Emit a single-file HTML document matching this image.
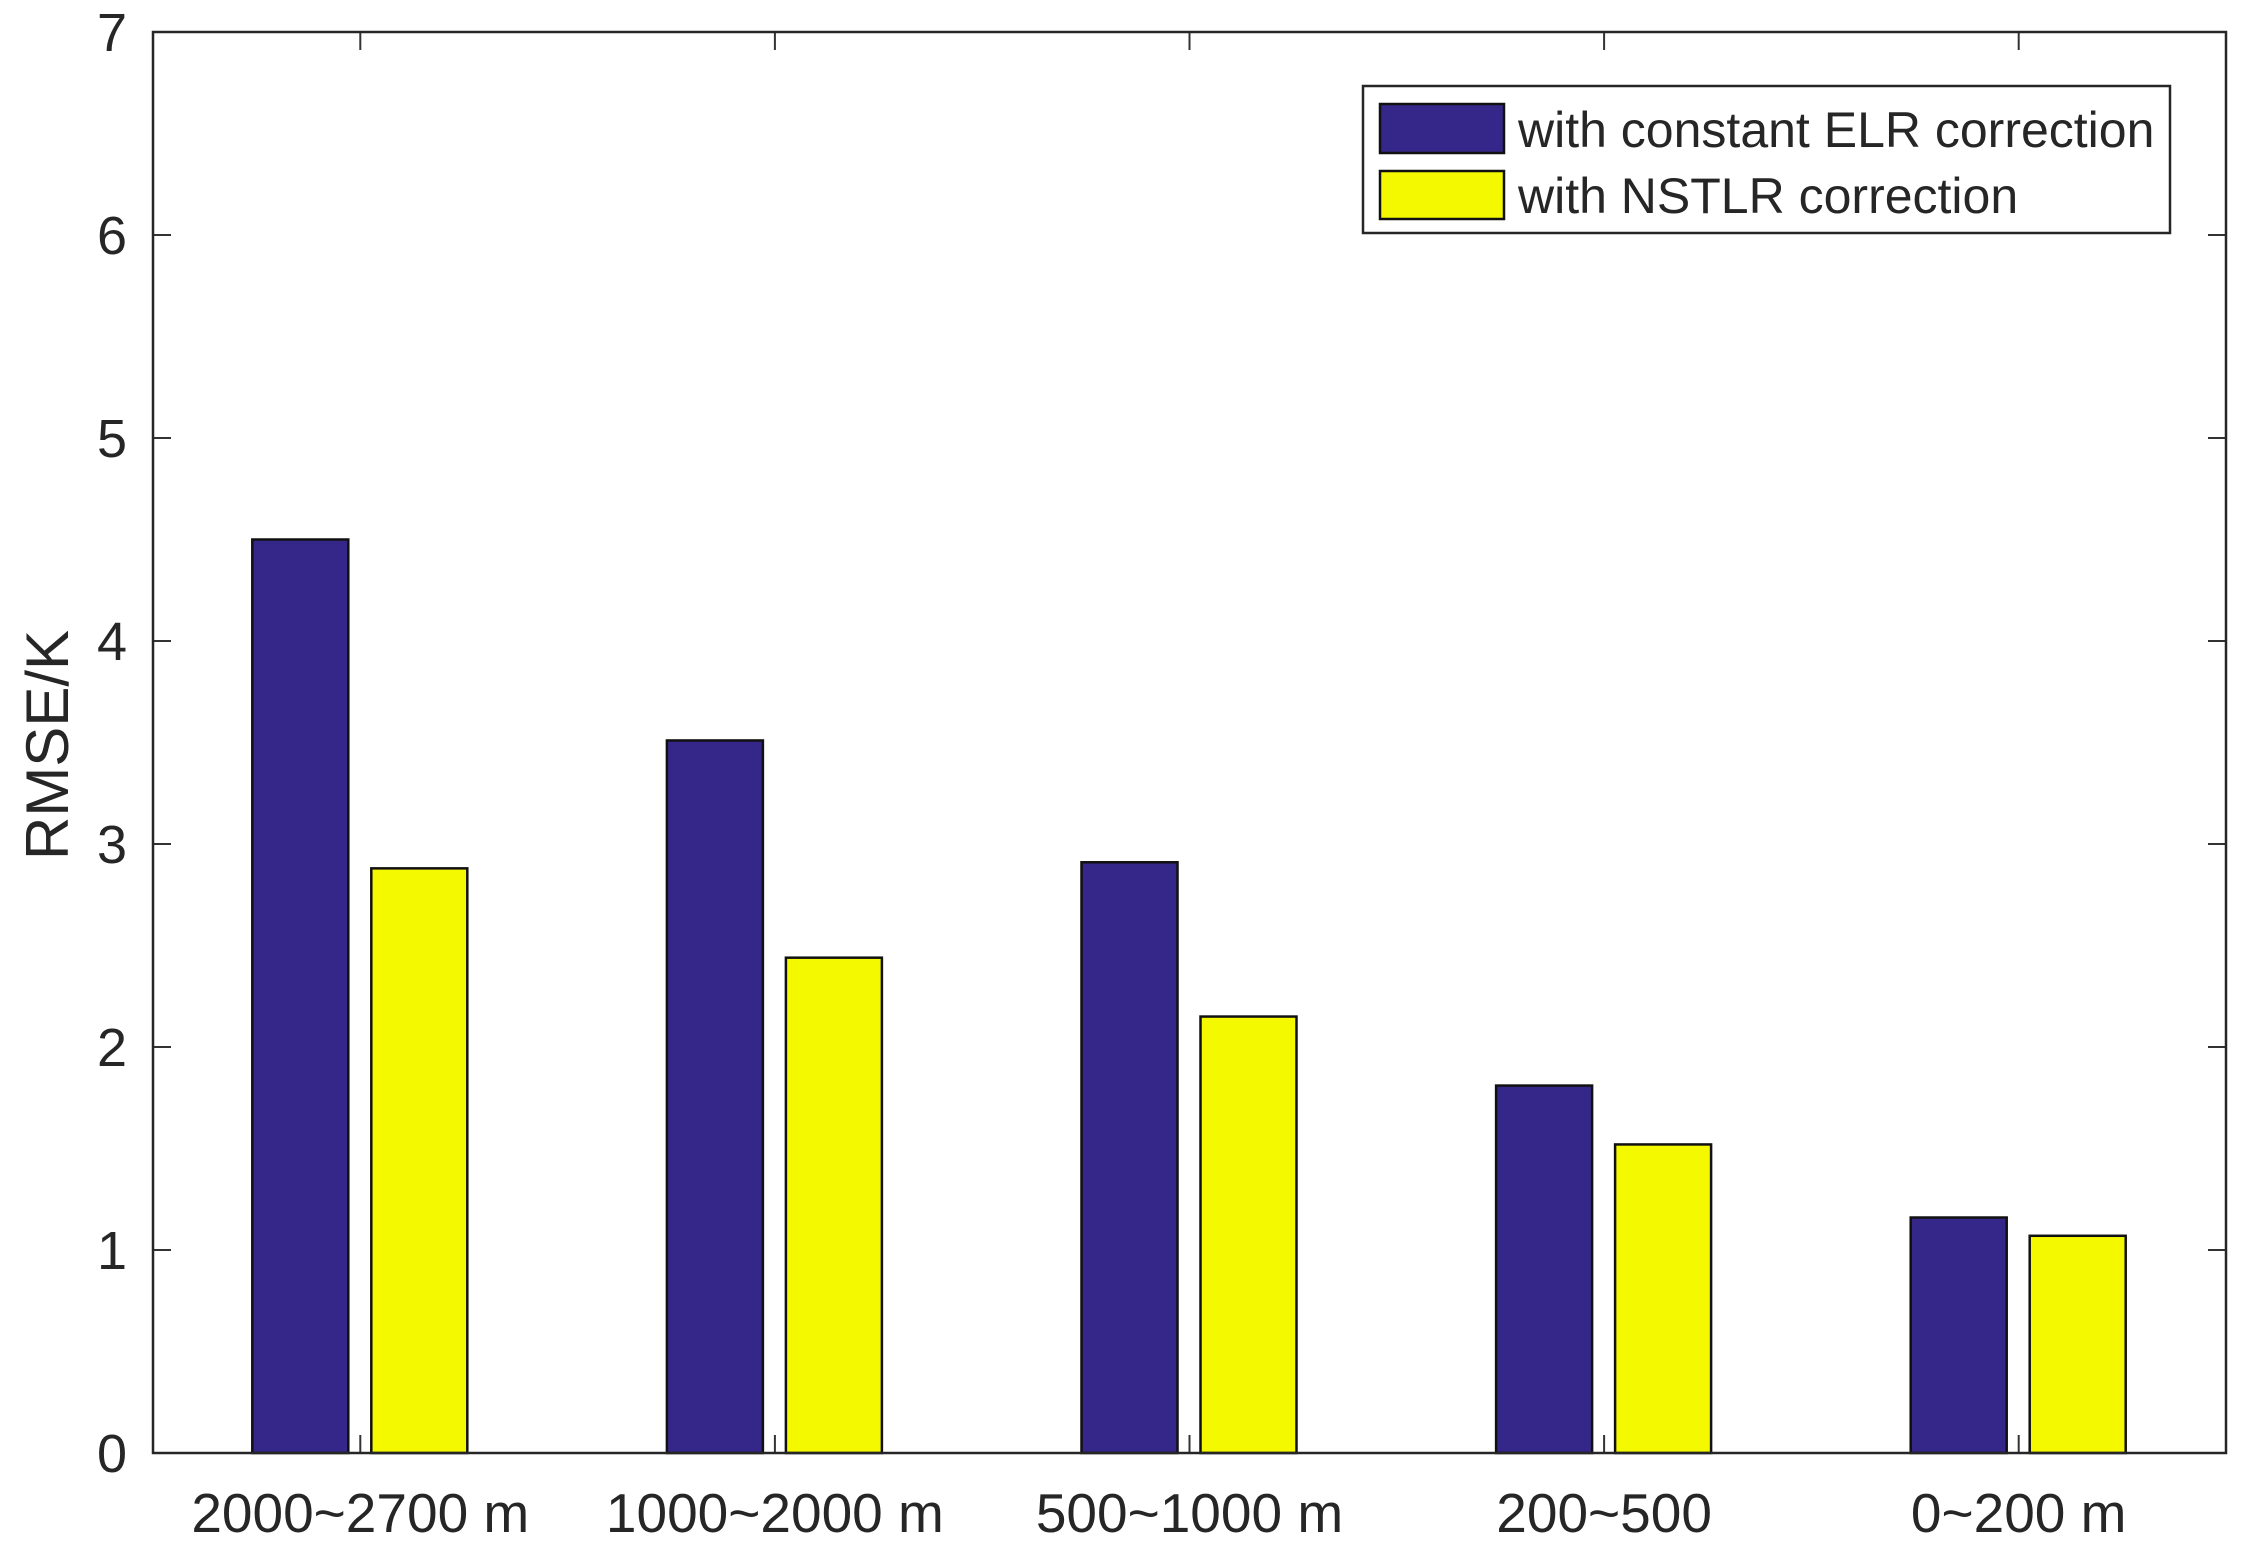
<!DOCTYPE html>
<html><head><meta charset="utf-8"><style>
html,body{margin:0;padding:0;background:#fff;}
svg text{font-family:"Liberation Sans",Arial,sans-serif;fill:#262626;}
</style></head><body>
<svg id="chart" width="2246" height="1554" viewBox="0 0 2246 1554" xmlns="http://www.w3.org/2000/svg"></svg>
<script>
const categories = ["2000~2700 m","1000~2000 m","500~1000 m","200~500","0~200 m"];
const elrValues = [4.5, 3.51, 2.91, 1.81, 1.16];
const nstlrValues = [2.88, 2.44, 2.15, 1.52, 1.07];
const yTicks = [0,1,2,3,4,5,6,7];

const NS = "http://www.w3.org/2000/svg";
const svg = document.getElementById("chart");
const L = 153, R = 2226, T = 32, B = 1453;
const yMax = 7;
function yScale(v){ return B - (B - T) * v / yMax; }
const step = (R - L) / categories.length;
function xCenter(i){ return L + step * (i + 0.5); }
function mk(tag, attrs){ const e = document.createElementNS(NS, tag); for (const k in attrs) e.setAttribute(k, attrs[k]); svg.appendChild(e); return e; }

const bw = 96;
categories.forEach((c, i) => {
  const cx = xCenter(i);
  const b1 = mk("rect", {x: cx - 108, y: yScale(elrValues[i]), width: bw, height: B - yScale(elrValues[i]), fill: "#352789", stroke: "#111", "stroke-width": 2.5});
  
  
  const b2 = mk("rect", {x: cx + 11, y: yScale(nstlrValues[i]), width: bw, height: B - yScale(nstlrValues[i]), fill: "#f5f900", stroke: "#111", "stroke-width": 2.5});
  
  
  const t1 = mk("line", {x1: cx, x2: cx, y1: B, y2: B - 18, stroke: "#333", "stroke-width": 2});
  
  
  const t2 = mk("line", {x1: cx, x2: cx, y1: T, y2: T + 18, stroke: "#333", "stroke-width": 2});
  
  
  const lb = mk("text", {x: cx, y: 1532, "font-size": 55, "text-anchor": "middle"});
  lb.textContent = c;
  
  
});

yTicks.forEach(v => {
  const y = yScale(v);
  const a = mk("line", {x1: L, x2: L + 18, y1: y, y2: y, stroke: "#333", "stroke-width": 2});
  
  
  const b = mk("line", {x1: R, x2: R - 18, y1: y, y2: y, stroke: "#333", "stroke-width": 2});
  
  
  const t = mk("text", {x: 127, y: y + 19, "font-size": 54, "text-anchor": "end"});
  t.textContent = v;
  
  
});

const box = mk("rect", {x: L, y: T, width: R - L, height: B - T, fill: "none", stroke: "#262626", "stroke-width": 2.5});



const yl = mk("text", {x: 0, y: 0, "font-size": 60, "text-anchor": "middle", transform: "translate(68,745) rotate(-90)"});
yl.textContent = "RMSE/K";



const lg = mk("rect", {x: 1363, y: 86, width: 807, height: 147, fill: "#fff", stroke: "#262626", "stroke-width": 2.5});


const s1 = mk("rect", {x: 1380, y: 104, width: 124, height: 49, fill: "#352789", stroke: "#111", "stroke-width": 2.5});


const s2 = mk("rect", {x: 1380, y: 171, width: 124, height: 48, fill: "#f5f900", stroke: "#111", "stroke-width": 2.5});


const l1 = mk("text", {x: 1518, y: 147, "font-size": 50});
l1.textContent = "with constant ELR correction";


const l2 = mk("text", {x: 1518, y: 213, "font-size": 50});
l2.textContent = "with NSTLR correction";


</script>
</body></html>
